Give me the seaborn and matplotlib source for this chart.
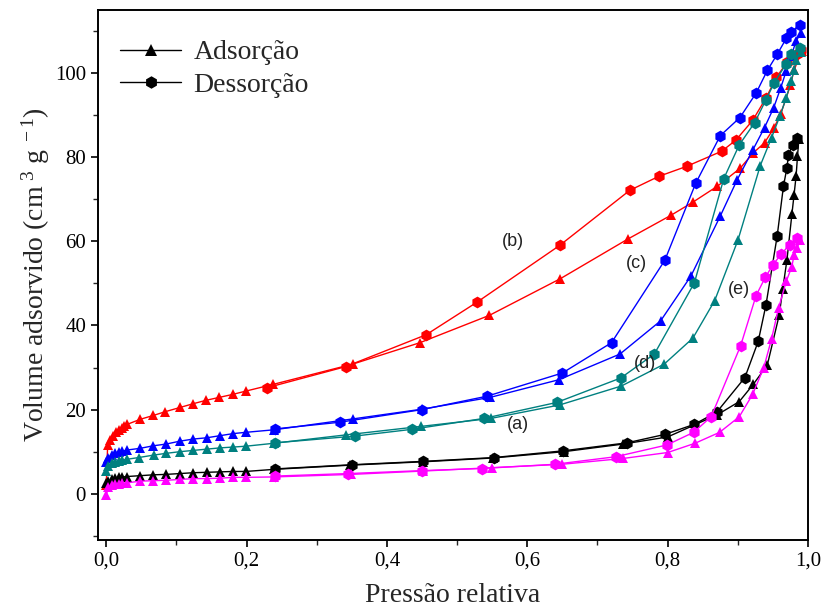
import numpy as np
import pandas as pd
import matplotlib
matplotlib.use("Agg")
import matplotlib.pyplot as plt
from matplotlib.lines import Line2D
from matplotlib.ticker import MultipleLocator, FuncFormatter
import seaborn as sns

# ---------------- data ----------------
red_ads_x = [0.0, 0.002, 0.006, 0.01, 0.014, 0.018, 0.022, 0.026, 0.03, 0.0485, 0.067, 0.084, 0.105, 0.124,
             0.142, 0.161, 0.18, 0.199, 0.238, 0.351, 0.447, 0.546, 0.647, 0.744, 0.805, 0.836, 0.871,
             0.903, 0.922, 0.938, 0.951, 0.961, 0.975, 0.98, 0.991]
red_ads_y = [2.0, 11.5, 12.8, 13.8, 14.6, 15.2, 15.7, 16.1, 16.5, 17.7, 18.6, 19.5, 20.5, 21.4,
             22.2, 22.9, 23.6, 24.4, 26.0, 30.8, 35.9, 42.4, 51.1, 60.6, 66.2, 69.3, 73.1,
             77.3, 81.0, 83.4, 86.8, 90.2, 97.1, 100.6, 105.2]
red_des_x = [0.229, 0.341, 0.456, 0.529, 0.646, 0.746, 0.787, 0.827, 0.877, 0.897, 0.921, 0.94, 0.955,
             0.97, 0.985, 0.99]
red_des_y = [25.2, 30.2, 37.8, 45.6, 59.0, 72.1, 75.4, 77.8, 81.4, 84.0, 88.7, 94.0, 99.0,
             102.5, 104.5, 105.5]

blue_ads_x = [0.0, 0.003, 0.008, 0.013, 0.018, 0.023, 0.03, 0.0485, 0.067, 0.085, 0.105, 0.124, 0.143,
              0.162, 0.181, 0.199, 0.239, 0.352, 0.45, 0.547, 0.645, 0.732, 0.79, 0.833, 0.875, 0.899,
              0.921, 0.938, 0.951, 0.961, 0.969, 0.976, 0.983, 0.99]
blue_ads_y = [7.5, 8.5, 9.3, 9.7, 9.9, 10.1, 10.4, 10.8, 11.4, 11.8, 12.5, 13.0, 13.3,
              13.8, 14.3, 14.6, 15.2, 17.8, 20.1, 22.9, 27.1, 33.2, 41.1, 51.7, 66.0, 74.6,
              81.6, 87.0, 91.7, 96.4, 100.5, 104.0, 107.6, 109.5]
blue_des_x = [0.24, 0.333, 0.45, 0.543, 0.65, 0.72, 0.796, 0.84, 0.875, 0.903, 0.926, 0.942, 0.956,
              0.969, 0.976, 0.988]
blue_des_y = [15.4, 17.0, 20.0, 23.2, 28.7, 35.9, 55.5, 73.8, 85.1, 89.4, 95.2, 100.6, 104.4,
              108.2, 109.8, 111.3]

teal_ads_x = [0.0, 0.003, 0.008, 0.013, 0.018, 0.023, 0.03, 0.046, 0.068, 0.085, 0.105, 0.124, 0.143,
              0.162, 0.181, 0.199, 0.239, 0.342, 0.448, 0.548, 0.646, 0.734, 0.795, 0.836, 0.867, 0.9,
              0.932, 0.948, 0.96, 0.969, 0.976, 0.98, 0.983, 0.99]
teal_ads_y = [5.5, 6.5, 7.2, 7.6, 7.8, 8.0, 8.2, 8.6, 9.2, 9.6, 10.0, 10.3, 10.6,
              10.9, 11.1, 11.3, 12.0, 14.0, 16.0, 17.9, 21.1, 25.6, 30.8, 37.0, 45.9, 60.2,
              78.0, 84.6, 89.8, 94.1, 98.1, 100.6, 103.0, 105.0]
teal_des_x = [0.24, 0.354, 0.435, 0.538, 0.642, 0.733, 0.781, 0.838, 0.88, 0.902, 0.924, 0.94, 0.952,
              0.969, 0.976, 0.989]
teal_des_y = [12.1, 13.7, 15.3, 17.9, 21.7, 27.5, 33.2, 50.1, 74.9, 82.9, 88.2, 93.6, 97.7,
              102.2, 104.4, 105.9]

black_ads_x = [0.0, 0.003, 0.008, 0.013, 0.018, 0.023, 0.03, 0.0485, 0.067, 0.085, 0.105, 0.124, 0.143,
               0.162, 0.181, 0.199, 0.239, 0.348, 0.452, 0.551, 0.652, 0.736, 0.8, 0.871, 0.902, 0.922,
               0.942, 0.959, 0.964, 0.97, 0.977, 0.98, 0.983, 0.985, 0.987]
black_ads_y = [2.5, 3.0, 3.4, 3.7, 3.9, 4.0, 4.1, 4.3, 4.5, 4.6, 4.8, 5.0, 5.1,
               5.2, 5.3, 5.3, 5.8, 6.8, 7.6, 8.5, 10.0, 11.8, 13.5, 18.8, 21.9, 26.0,
               30.6, 42.5, 48.7, 55.6, 66.4, 70.9, 75.5, 80.2, 84.4]
black_des_x = [0.24, 0.35, 0.452, 0.552, 0.651, 0.742, 0.796, 0.838, 0.87, 0.91, 0.929, 0.94, 0.956,
               0.965, 0.97, 0.972, 0.978, 0.984]
black_des_y = [5.9, 6.9, 7.7, 8.6, 10.2, 12.1, 14.1, 16.5, 19.4, 27.6, 36.2, 44.8, 61.2,
               73.1, 77.5, 80.5, 82.9, 84.6]

mag_ads_x = [0.0, 0.003, 0.008, 0.013, 0.018, 0.023, 0.03, 0.0485, 0.067, 0.085, 0.105, 0.124, 0.143,
             0.162, 0.181, 0.199, 0.239, 0.349, 0.452, 0.549, 0.649, 0.737, 0.8, 0.839, 0.874, 0.902,
             0.921, 0.937, 0.948, 0.958, 0.969, 0.977, 0.98, 0.985, 0.988]
mag_ads_y = [-0.3, 1.5, 2.1, 2.3, 2.4, 2.5, 2.6, 3.0, 3.1, 3.2, 3.4, 3.6, 3.6,
             3.7, 3.9, 3.9, 4.0, 4.6, 5.4, 6.2, 7.0, 8.4, 9.8, 12.0, 14.6, 18.3,
             23.6, 30.0, 36.8, 44.1, 50.5, 54.0, 56.7, 58.4, 60.4]
mag_des_x = [0.24, 0.345, 0.45, 0.535, 0.639, 0.726, 0.799, 0.837, 0.862, 0.904, 0.926, 0.939, 0.95,
             0.962, 0.974, 0.985]
mag_des_y = [4.2, 4.8, 5.5, 6.0, 7.0, 8.8, 11.6, 14.6, 18.3, 35.2, 47.1, 51.4, 54.4,
             57.0, 59.2, 60.7]

x_ticks = [0.0, 0.2, 0.4, 0.6, 0.8, 1.0]
y_ticks = [0, 20, 40, 60, 80, 100]
legend_labels = ["Adsorção", "Dessorção"]
curve_labels = ["(a)", "(b)", "(c)", "(d)", "(e)"]
curve_label_x = [0.586, 0.579, 0.756, 0.767, 0.902]
curve_label_y = [16.4, 60.0, 54.8, 31.0, 48.6]

series = [
    ("red", red_ads_x, red_ads_y, red_des_x, red_des_y),
    ("blue", blue_ads_x, blue_ads_y, blue_des_x, blue_des_y),
    ("teal", teal_ads_x, teal_ads_y, teal_des_x, teal_des_y),
    ("black", black_ads_x, black_ads_y, black_des_x, black_des_y),
    ("magenta", mag_ads_x, mag_ads_y, mag_des_x, mag_des_y),
]
colors = {"red": "#ff0000", "blue": "#0000ff", "teal": "#008080",
          "black": "#000000", "magenta": "#ff00ff"}

# ---------------- plot ----------------
sns.set_theme(style="ticks")
plt.rcParams["font.family"] = ["Liberation Serif", "DejaVu Serif"]
plt.rcParams["mathtext.fontset"] = "custom"
plt.rcParams["mathtext.rm"] = "Liberation Serif"
plt.rcParams["mathtext.it"] = "Liberation Serif"

fig = plt.figure(figsize=(8.22, 6.13), dpi=100)
ax = fig.add_axes([0.119, 0.119, 0.864, 0.865])

for name, ax_x, ax_y, dx, dy in series:
    c = colors[name]
    df_a = pd.DataFrame({"x": ax_x, "y": ax_y})
    df_d = pd.DataFrame({"x": dx, "y": dy})
    sns.lineplot(data=df_a, x="x", y="y", sort=False, estimator=None, ax=ax, color=c,
                 marker="^", markersize=7.5, markeredgewidth=0, linewidth=1.0, legend=False)
    sns.lineplot(data=df_d, x="x", y="y", sort=False, estimator=None, ax=ax, color=c,
                 marker="h", markersize=8.5, markeredgewidth=0, linewidth=1.0, legend=False)

for lab, lx, ly in zip(curve_labels, curve_label_x, curve_label_y):
    ax.text(lx, ly, lab, fontsize=13, family=["Liberation Sans", "DejaVu Sans"],
            ha="center", va="center", color="#222222")

ax.set_xlim(-0.012, 1.0)
ax.set_ylim(-11, 115)
ax.set_xticks(x_ticks)
ax.set_yticks(y_ticks)
ax.xaxis.set_minor_locator(MultipleLocator(0.1))
ax.yaxis.set_minor_locator(MultipleLocator(10))
ax.xaxis.set_major_formatter(FuncFormatter(lambda v, p: f"{v:.1f}".replace(".", ",")))
ax.yaxis.set_major_formatter(FuncFormatter(lambda v, p: f"{int(round(v))}"))
ax.tick_params(which="major", direction="out", length=5, width=1.2, labelsize=15, colors="black")
ax.tick_params(which="minor", direction="out", length=3.5, width=1.0)
for sp in ax.spines.values():
    sp.set_visible(True)
    sp.set_linewidth(1.4)
    sp.set_color("black")

ax.set_xlabel("Pressão relativa", fontsize=20, labelpad=9)
ax.set_ylabel("Volume adsorvido (cm$^{\\ 3}$ g$^{\\ -1}$)", fontsize=20, labelpad=2)

handles = [Line2D([0], [0], color="black", lw=1.0, marker="^", markersize=9, markeredgewidth=0),
           Line2D([0], [0], color="black", lw=1.0, marker="h", markersize=9, markeredgewidth=0)]
ax.legend(handles, legend_labels, loc="upper left", bbox_to_anchor=(0.0, 0.985), frameon=False,
          fontsize=20, handlelength=2.2, labelspacing=0.25, handletextpad=0.45, borderaxespad=0.4)

fig.savefig("out.png", dpi=100)
